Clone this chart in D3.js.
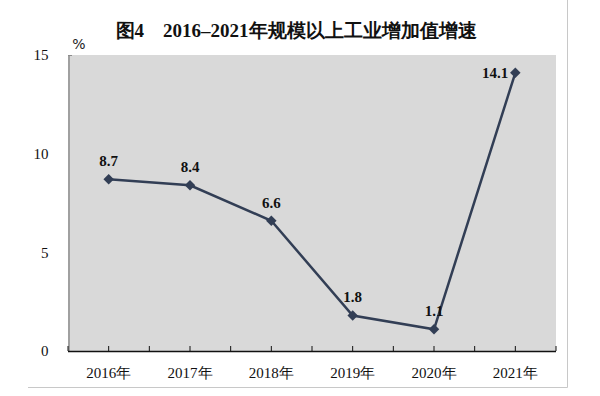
<!DOCTYPE html>
<html>
<head>
<meta charset="utf-8">
<script src="https://cdn.jsdelivr.net/npm/d3@7"></script>
<style>
body { margin: 0; background: #fff; }
text { font-family: "Liberation Serif", "Times New Roman", serif; }
</style>
</head>
<body>
<script>
//chart data
var years = ["2016年", "2017年", "2018年", "2019年", "2020年", "2021年"];
var growth = [8.7, 8.4, 6.6, 1.8, 1.1, 14.1];
var yTicks = [0, 5, 10, 15];

window.onload = drawChart();

function drawChart(){

	var width = 600,
		height = 396;

	var margin = {left: 68, right: 44, top: 55, bottom: 45};

	var svg = d3.select("body")
		.append("svg")
		.attr("width", width)
		.attr("height", height);

	//frame lines on right and bottom
	svg.append("line")
		.attr("x1", 567.5).attr("x2", 567.5)
		.attr("y1", 0).attr("y2", 387.5)
		.attr("stroke", "#c8c8c8");
	svg.append("line")
		.attr("x1", 28).attr("x2", 567.5)
		.attr("y1", 387.5).attr("y2", 387.5)
		.attr("stroke", "#c8c8c8");

	var x = d3.scaleBand()
		.domain(years)
		.range([margin.left, width - margin.right]);

	var y = d3.scaleLinear()
		.domain([0, 15])
		.range([height - margin.bottom, margin.top]);

	//gray plot area
	svg.append("rect")
		.attr("x", x.range()[0])
		.attr("y", y(15))
		.attr("width", x.range()[1] - x.range()[0])
		.attr("height", y(0) - y(15))
		.attr("fill", "#d9d9d9");

	//title
	svg.append("text")
		.attr("x", 296)
		.attr("y", 37)
		.attr("text-anchor", "middle")
		.attr("font-size", 19)
		.attr("font-weight", "bold")
		.attr("fill", "#111")
		.text("图4　2016–2021年规模以上工业增加值增速");

	svg.append("text")
		.attr("x", 79)
		.attr("y", 49)
		.attr("text-anchor", "middle")
		.attr("fill", "#222")
		.style("font-family", "'DejaVu Sans', sans-serif")
		.style("font-size", "14px")
		.text("%");

	//y axis
	var yAxis = svg.append("g")
		.attr("transform", "translate(" + (margin.left + 0.5) + ",0)")
		.call(d3.axisLeft(y).tickValues(yTicks).tickSize(0).tickPadding(20));
	yAxis.select(".domain").attr("stroke", "#8c8c8c").attr("stroke-width", 1.5);
	yAxis.selectAll("text")
		.attr("font-size", 15)
		.attr("fill", "#111")
		.style("font-family", "'Liberation Serif', serif");

	svg.append("line")
		.attr("x1", margin.left).attr("x2", margin.left + 4)
		.attr("y1", y(15) + 0.5).attr("y2", y(15) + 0.5)
		.attr("stroke", "#8c8c8c");

	//x axis with half-band inward ticks
	var halfTicks = [];
	var step = x.bandwidth() / 2;
	for (var i = 0; i <= years.length * 2; i++) {
		halfTicks.push(x.range()[0] + i * step);
	}
	svg.selectAll(".xtick")
		.data(halfTicks)
		.enter()
		.append("line")
		.attr("class", "xtick")
		.attr("x1", function(d){ return d; })
		.attr("x2", function(d){ return d; })
		.attr("y1", y(0))
		.attr("y2", y(0) - 5)
		.attr("stroke", "#111");

	svg.append("line")
		.attr("x1", x.range()[0]).attr("x2", x.range()[1])
		.attr("y1", y(0) + 0.5).attr("y2", y(0) + 0.5)
		.attr("stroke", "#111")
		.attr("stroke-width", 1.5);

	svg.selectAll(".xlabel")
		.data(years)
		.enter()
		.append("text")
		.attr("class", "xlabel")
		.attr("x", function(d){ return x(d) + x.bandwidth() / 2; })
		.attr("y", y(0) + 27)
		.attr("text-anchor", "middle")
		.attr("font-size", 15)
		.attr("fill", "#111")
		.text(function(d){ return d; });

	//line
	var line = d3.line()
		.x(function(d, i){ return x(years[i]) + x.bandwidth() / 2; })
		.y(function(d){ return y(d); });

	svg.append("path")
		.datum(growth)
		.attr("d", line)
		.attr("fill", "none")
		.attr("stroke", "#323e55")
		.attr("stroke-width", 2.5);

	//diamond markers
	svg.selectAll(".pt")
		.data(growth)
		.enter()
		.append("path")
		.attr("class", "pt")
		.attr("d", d3.symbol().type(d3.symbolDiamond2).size(70))
		.attr("transform", function(d, i){
			return "translate(" + (x(years[i]) + x.bandwidth() / 2) + "," + y(d) + ")";
		})
		.attr("fill", "#323e55");

	//value labels
	svg.selectAll(".val")
		.data(growth)
		.enter()
		.append("text")
		.attr("class", "val")
		.attr("x", function(d, i){
			var cx = x(years[i]) + x.bandwidth() / 2;
			return i == growth.length - 1 ? cx - 7 : cx;
		})
		.attr("y", function(d, i){
			return i == growth.length - 1 ? y(d) + 5 : y(d) - 13;
		})
		.attr("text-anchor", function(d, i){
			return i == growth.length - 1 ? "end" : "middle";
		})
		.attr("font-size", 15)
		.attr("font-weight", "bold")
		.attr("fill", "#111")
		.text(function(d){ return d.toFixed(1); });
}
</script>
</body>
</html>
